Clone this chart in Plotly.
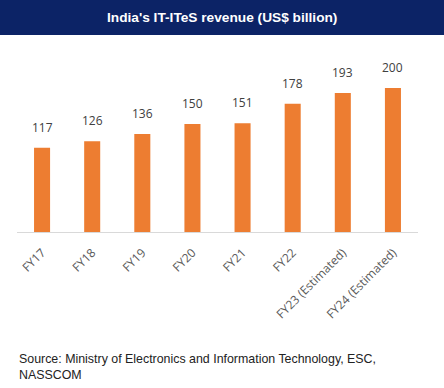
import plotly.graph_objects as go

categories = ["FY17", "FY18", "FY19", "FY20", "FY21", "FY22", "FY23 (Estimated)", "FY24 (Estimated)"]
revenue = [117, 126, 136, 150, 151, 178, 193, 200]

W, H = 444, 388
ml, mr, mt, mb = 17, 26, 52, 156
pw = W - ml - mr
ph = H - mt - mb

fig = go.Figure(go.Bar(
    x=categories, y=revenue,
    marker=dict(color="#ED7D31", line=dict(width=0)),
    cliponaxis=False,
))

value_labels = [
    dict(x=c, y=v, text=str(v), xref="x", yref="y", yanchor="bottom", xanchor="center",
         yshift=10, showarrow=False,
         font=dict(family="Open Sans, Liberation Sans, sans-serif", size=12, color="#404040"))
    for c, v in zip(categories, revenue)
]

fig.update_layout(
    width=W, height=H,
    margin=dict(l=ml, r=mr, t=mt, b=mb),
    paper_bgcolor="white", plot_bgcolor="white",
    bargap=0.68,
    showlegend=False,
    xaxis=dict(showgrid=False, showline=True, linecolor="#D9D9D9", linewidth=1,
               ticks="", tickangle=-45, ticklabelstandoff=8,
               tickfont=dict(family="Open Sans, Liberation Sans, sans-serif", size=12, color="#595959")),
    yaxis=dict(range=[0, 250], visible=False, showgrid=False, zeroline=False),
    shapes=[dict(type="rect", xref="paper", yref="paper",
                 x0=-ml / pw, x1=1 + mr / pw,
                 y0=1 + (mt - 35) / ph, y1=1 + mt / ph,
                 fillcolor="#0C2366", line=dict(width=0), layer="below")],
    annotations=value_labels + [
        dict(text="<b>India's IT-ITeS revenue (US$ billion)</b>", xref="paper", yref="paper",
             x=(W / 2 - ml) / pw, y=1 + (mt - 17.5) / ph, xanchor="center", yanchor="middle",
             showarrow=False, font=dict(family="Liberation Sans, Arial, sans-serif", size=13.7, color="white")),
        dict(text="Source: Ministry of Electronics and Information Technology, ESC,<br>NASSCOM",
             xref="paper", yref="paper", x=0, y=-(358 - 232 - 8) / ph, xanchor="left", yanchor="top",
             align="left", showarrow=False,
             font=dict(family="Liberation Sans, Arial, sans-serif", size=12.4, color="#222222")),
    ],
)

fig.write_html("out.html", config={"displayModeBar": False},
               post_script="document.body.style.margin='0';")
